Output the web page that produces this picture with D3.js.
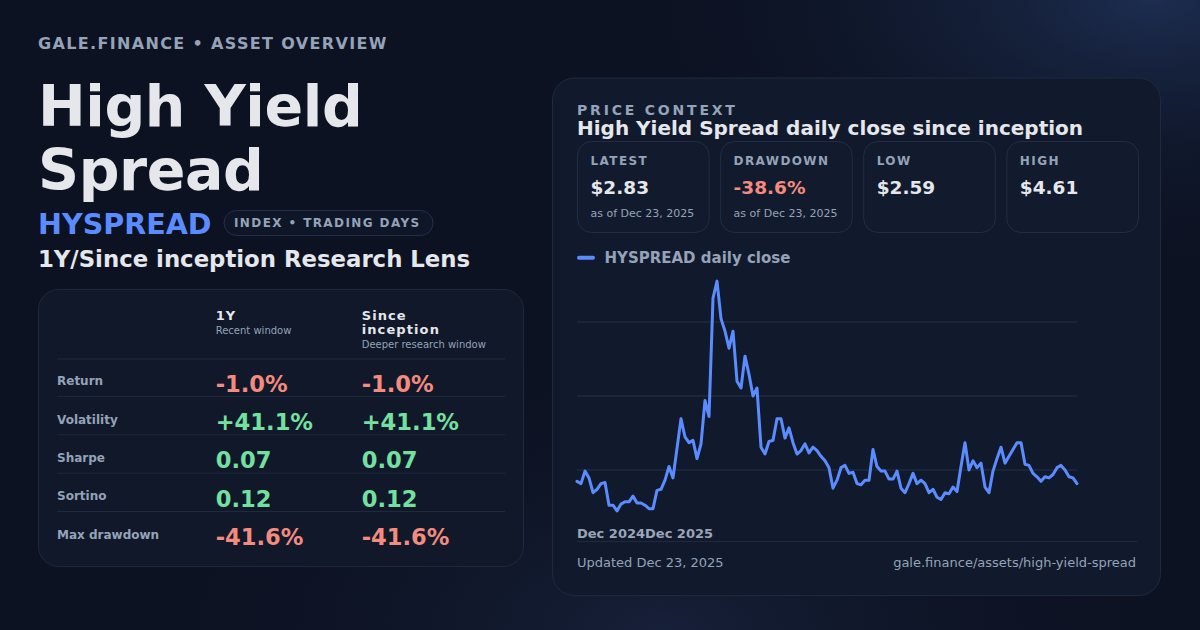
<!DOCTYPE html>
<html>
<head>
<meta charset="utf-8">
<script src="https://cdn.jsdelivr.net/npm/d3@7"></script>
<style>
  html, body { margin: 0; padding: 0; background: #0c1222; }
  svg { display: block; font-family: "DejaVu Sans", sans-serif; }
</style>
</head>
<body>
<svg id="card" width="1200" height="630"></svg>
<script>
const closes = [
  2.85, 2.83, 2.94, 2.88, 2.75, 2.78, 2.83, 2.84, 2.64, 2.64,
  2.59, 2.65, 2.67, 2.67, 2.72, 2.66, 2.66, 2.64, 2.61, 2.61,
  2.77, 2.78, 2.86, 2.98, 2.88, 3.14, 3.40, 3.24, 3.19, 3.21,
  3.05, 3.18, 3.56, 3.42, 4.46, 4.61, 4.28, 4.17, 4.02, 4.17,
  3.73, 3.67, 3.95, 3.79, 3.60, 3.67, 3.15, 3.09, 3.20, 3.21,
  3.40, 3.40, 3.23, 3.32, 3.19, 3.09, 3.12, 3.18, 3.10, 3.15,
  3.12, 3.07, 3.03, 2.97, 2.79, 2.86, 2.97, 2.99, 2.92, 2.93,
  2.83, 2.82, 2.86, 2.86, 3.13, 2.98, 2.94, 2.94, 2.87, 2.87,
  2.94, 2.79, 2.75, 2.83, 2.92, 2.83, 2.86, 2.83, 2.75, 2.78,
  2.71, 2.69, 2.75, 2.74, 2.80, 2.76, 2.98, 3.19, 2.95, 3.03,
  2.97, 3.01, 2.80, 2.75, 2.94, 3.05, 3.15, 3.01, 3.07, 3.13,
  3.19, 3.19, 3.00, 2.99, 2.92, 2.89, 2.85, 2.89, 2.88, 2.91,
  2.97, 2.99, 2.95, 2.89, 2.88, 2.83
];
const xLabels = ["Dec 2024", "Dec 2025"];

const metricNames = ["Return", "Volatility", "Sharpe", "Sortino", "Max drawdown"];
const oneYear = ["-1.0%", "+41.1%", "0.07", "0.12", "-41.6%"];
const sinceInception = ["-1.0%", "+41.1%", "0.07", "0.12", "-41.6%"];
const columns = [
  { title: ["1Y"], note: "Recent window", values: oneYear },
  { title: ["Since", "inception"], note: "Deeper research window", values: sinceInception }
];

const statLabels = ["LATEST", "DRAWDOWN", "LOW", "HIGH"];
const statValues = ["$2.83", "-38.6%", "$2.59", "$4.61"];
const statNotes = ["as of Dec 23, 2025", "as of Dec 23, 2025", "", ""];

const muted = "#94a3b8";
const bright = "#e5e7eb";
const red = "#f38b7e";
const green = "#74e0a0";
const blue = "#5b8cff";
const tone = v => v.startsWith("-") ? red : green;

const svg = d3.select("#card");

// fondo con brillo arriba a la derecha
const defs = svg.append("defs");
const g1 = defs.append("radialGradient").attr("id", "glow")
  .attr("cx", "96%").attr("cy", "0%").attr("r", "45%");
g1.append("stop").attr("offset", "0%").attr("stop-color", "#1d2d50");
g1.append("stop").attr("offset", "100%").attr("stop-color", "#0c1222").attr("stop-opacity", 0);
const g2 = defs.append("radialGradient").attr("id", "glow2")
  .attr("cx", "55%").attr("cy", "100%").attr("r", "45%");
g2.append("stop").attr("offset", "0%").attr("stop-color", "#172039");
g2.append("stop").attr("offset", "100%").attr("stop-color", "#0c1222").attr("stop-opacity", 0);

svg.append("rect").attr("width", 1200).attr("height", 630).attr("fill", "#0c1222");
svg.append("rect").attr("width", 1200).attr("height", 630).attr("fill", "url(#glow2)");
svg.append("rect").attr("width", 1200).attr("height", 630).attr("fill", "url(#glow)");

// ---- lado izquierdo ----
svg.append("text").attr("x", 38).attr("y", 49)
  .attr("font-size", 16).attr("font-weight", "bold").attr("letter-spacing", 1.35)
  .attr("fill", muted).text("GALE.FINANCE • ASSET OVERVIEW");

const title = svg.append("text").attr("font-size", 57).attr("font-weight", "bold")
  .attr("letter-spacing", -0.4).attr("fill", bright);
title.append("tspan").attr("x", 38).attr("y", 126).text("High Yield");
title.append("tspan").attr("x", 38).attr("y", 190).text("Spread");

svg.append("text").attr("x", 38).attr("y", 233.5)
  .attr("font-size", 28.6).attr("font-weight", "bold").attr("fill", blue).text("HYSPREAD");

svg.append("rect").attr("x", 224).attr("y", 210.5).attr("width", 209).attr("height", 25).attr("rx", 12.5)
  .attr("fill", "#0e1628").attr("stroke", "#243049");
svg.append("text").attr("x", 234).attr("y", 227.3)
  .attr("font-size", 12).attr("font-weight", "bold").attr("letter-spacing", 1.4)
  .attr("fill", muted).text("INDEX • TRADING DAYS");

svg.append("text").attr("x", 38).attr("y", 267)
  .attr("font-size", 22.8).attr("font-weight", "bold").attr("fill", bright)
  .text("1Y/Since inception Research Lens");

// tabla
svg.append("rect").attr("x", 38.5).attr("y", 289.5).attr("width", 485).attr("height", 277).attr("rx", 20)
  .attr("fill", "#10182a").attr("stroke", "#1e293b");

const colX = d3.scalePoint().domain(d3.range(columns.length)).range([215.7, 361.7]);
const rowY = d3.scalePoint().domain(metricNames).range([391.7, 545]);

columns.forEach((c, i) => {
  const t = svg.append("text").attr("font-size", 13).attr("font-weight", "bold")
    .attr("letter-spacing", 1.1).attr("fill", bright);
  c.title.forEach((line, j) => {
    t.append("tspan").attr("x", colX(i)).attr("y", 320 + j * 14.3).text(line);
  });
  svg.append("text").attr("x", colX(i)).attr("y", 320 + c.title.length * 14.3 - 0.7)
    .attr("font-size", 10).attr("fill", muted).text(c.note);
});

svg.append("line").attr("x1", 57).attr("x2", 505).attr("y1", 359).attr("y2", 359)
  .attr("stroke", "#1f2a3d");
svg.selectAll(".sep").data(metricNames.slice(1)).join("line")
  .attr("x1", 57).attr("x2", 505)
  .attr("y1", d => rowY(d) - 33.5).attr("y2", d => rowY(d) - 33.5)
  .attr("stroke", "#1f2a3d");

svg.selectAll(".rowname").data(metricNames).join("text")
  .attr("x", 57).attr("y", d => rowY(d) - 6.5)
  .attr("font-size", 12).attr("font-weight", "bold").attr("fill", muted)
  .text(d => d);

columns.forEach((c, i) => {
  svg.selectAll(".v" + i).data(c.values).join("text")
    .attr("x", colX(i)).attr("y", (d, k) => rowY(metricNames[k]))
    .attr("font-size", 22.6).attr("font-weight", "bold")
    .attr("fill", d => tone(d)).text(d => d);
});

// ---- panel derecho ----
svg.append("rect").attr("x", 552.5).attr("y", 78).attr("width", 608).attr("height", 517.5).attr("rx", 22)
  .attr("fill", "#111a2c").attr("stroke", "#1f2a3e");

svg.append("text").attr("x", 577).attr("y", 115)
  .attr("font-size", 14).attr("font-weight", "bold").attr("letter-spacing", 2.8)
  .attr("fill", muted).text("PRICE CONTEXT");
svg.append("text").attr("x", 577).attr("y", 135)
  .attr("font-size", 20).attr("font-weight", "bold").attr("fill", bright)
  .text("High Yield Spread daily close since inception");

const statX = d3.scaleBand().domain(d3.range(statLabels.length)).range([577.5, 1138.5]).paddingInner(0.08);
const stats = svg.selectAll(".stat").data(statLabels).join("g")
  .attr("transform", (d, i) => `translate(${statX(i)},141.5)`);
stats.append("rect").attr("width", statX.bandwidth()).attr("height", 91).attr("rx", 14)
  .attr("fill", "#121b2e").attr("stroke", "#222d43");
stats.append("text").attr("x", 13).attr("y", 23.5)
  .attr("font-size", 12).attr("font-weight", "bold").attr("letter-spacing", 1.4)
  .attr("fill", muted).text(d => d);
stats.append("text").attr("x", 13).attr("y", 52)
  .attr("font-size", 18.5).attr("font-weight", "bold")
  .attr("fill", (d, i) => statValues[i].startsWith("-") ? red : bright)
  .text((d, i) => statValues[i]);
stats.append("text").attr("x", 13).attr("y", 75.5)
  .attr("font-size", 11).attr("fill", muted).text((d, i) => statNotes[i]);

// leyenda
svg.append("line").attr("x1", 579).attr("x2", 593).attr("y1", 257.7).attr("y2", 257.7)
  .attr("stroke", blue).attr("stroke-width", 4).attr("stroke-linecap", "round");
svg.append("text").attr("x", 604.5).attr("y", 263.3)
  .attr("font-size", 15).attr("font-weight", "bold").attr("fill", muted)
  .text("HYSPREAD daily close");

// grafico
const lo = d3.min(closes), hi = d3.max(closes);
const pad = (hi - lo) * 0.144;
const x = d3.scaleLinear().domain([0, closes.length - 1]).range([577, 1077]);
const y = d3.scaleLinear().domain([lo - pad, hi + pad]).range([544, 248]);

const [d0, d1] = y.domain();
const gridVals = [1, 2, 3].map(k => d0 + (d1 - d0) * k / 4);
svg.selectAll(".grid").data(gridVals).join("line")
  .attr("x1", x.range()[0]).attr("x2", x.range()[1])
  .attr("y1", d => y(d)).attr("y2", d => y(d))
  .attr("stroke", "#223049").attr("stroke-width", 1.2);

svg.append("path").datum(closes)
  .attr("fill", "none").attr("stroke", blue).attr("stroke-width", 3)
  .attr("stroke-linejoin", "round").attr("stroke-linecap", "round")
  .attr("d", d3.line().x((d, i) => x(i)).y(d => y(d)));

const xl = svg.append("text").attr("x", 577).attr("y", 537.5)
  .attr("font-size", 13).attr("font-weight", "bold").attr("fill", "#9aa5b8");
xLabels.forEach(l => xl.append("tspan").text(l));

svg.append("line").attr("x1", 577).attr("x2", 1137).attr("y1", 541.5).attr("y2", 541.5)
  .attr("stroke", "#1f2a3e");

svg.append("text").attr("x", 577).attr("y", 567)
  .attr("font-size", 13).attr("fill", muted).text("Updated Dec 23, 2025");
svg.append("text").attr("x", 1136).attr("y", 567).attr("text-anchor", "end")
  .attr("font-size", 13).attr("fill", muted).text("gale.finance/assets/high-yield-spread");
</script>
</body>
</html>
